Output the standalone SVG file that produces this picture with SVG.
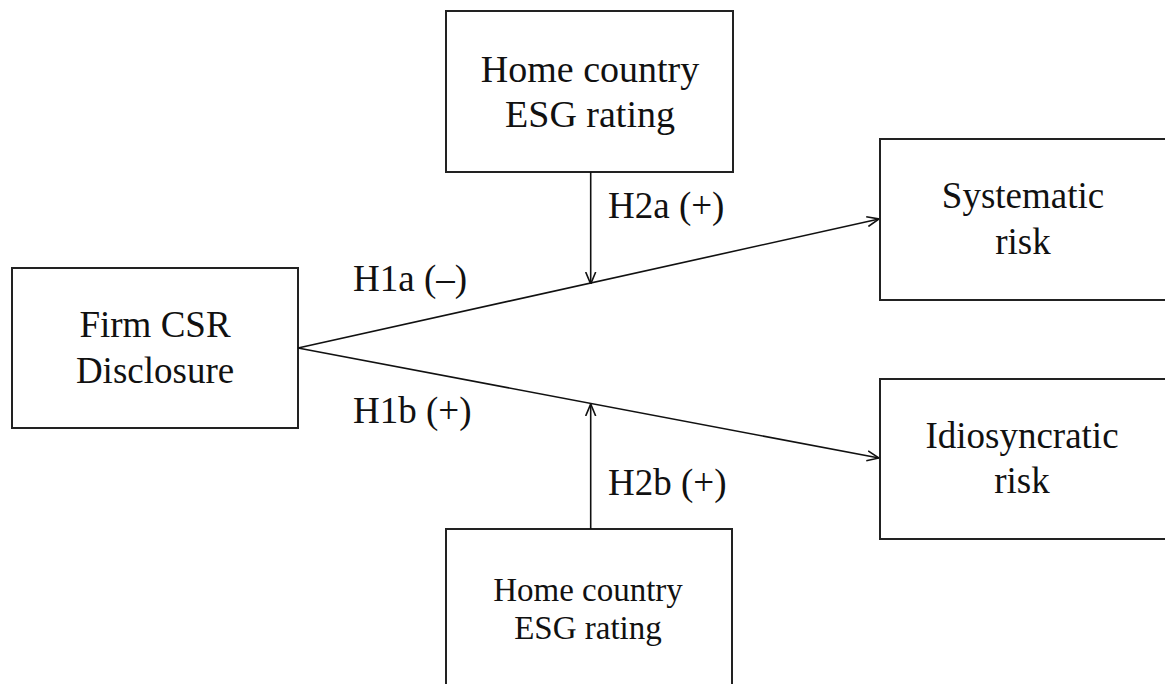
<svg xmlns="http://www.w3.org/2000/svg" width="1165" height="684" viewBox="0 0 1165 684">
  <style>
    .box { fill: #fff; stroke: #222; stroke-width: 2; }
    .t { font-family: "Liberation Serif", "Times New Roman", serif; fill: #111; text-anchor: middle; }
    .lbl { font-family: "Liberation Serif", "Times New Roman", serif; fill: #111; font-size: 37px; }
    .conn { stroke: #111; stroke-width: 1.6; fill: none; }
  </style>
  <defs>
    <marker id="arr" viewBox="0 0 12 12" refX="12" refY="6" markerWidth="12" markerHeight="12" markerUnits="userSpaceOnUse" orient="auto">
      <path d="M0,1 L12,6 L0,11" fill="none" stroke="#111" stroke-width="1.6"/>
    </marker>
  </defs>
  <rect width="1165" height="684" fill="#fff"/>

  <g id="node-firm">
    <rect class="box" x="12" y="268" width="286" height="160"/>
    <text class="t" font-size="37" x="155" y="337">Firm CSR</text>
    <text class="t" font-size="37" x="155" y="383">Disclosure</text>
  </g>

  <g id="node-home-top">
    <rect class="box" x="446" y="11" width="287" height="161"/>
    <text class="t" font-size="38" x="590" y="82">Home country</text>
    <text class="t" font-size="38" x="590" y="127">ESG rating</text>
  </g>

  <g id="node-home-bottom">
    <rect class="box" x="446" y="529" width="286" height="180"/>
    <text class="t" font-size="33" x="588" y="601">Home country</text>
    <text class="t" font-size="33" x="588" y="639">ESG rating</text>
  </g>

  <g id="node-systematic">
    <rect class="box" x="880" y="139" width="300" height="161"/>
    <text class="t" font-size="37" x="1023" y="208">Systematic</text>
    <text class="t" font-size="37" x="1023" y="254">risk</text>
  </g>

  <g id="node-idiosyncratic">
    <rect class="box" x="880" y="379" width="300" height="160"/>
    <text class="t" font-size="37" x="1022" y="448">Idiosyncratic</text>
    <text class="t" font-size="37" x="1022" y="493">risk</text>
  </g>

  <g id="connectors">
    <line class="conn" x1="298" y1="348" x2="879" y2="219" marker-end="url(#arr)"/>
    <line class="conn" x1="298" y1="348" x2="879" y2="458" marker-end="url(#arr)"/>
    <line class="conn" x1="590.7" y1="172" x2="590.7" y2="284" marker-end="url(#arr)"/>
    <line class="conn" x1="590.7" y1="529" x2="590.7" y2="404" marker-end="url(#arr)"/>
  </g>

  <g id="labels">
    <text class="lbl" x="353" y="291">H1a (–)</text>
    <text class="lbl" x="353" y="423">H1b (+)</text>
    <text class="lbl" x="608" y="218">H2a (+)</text>
    <text class="lbl" x="608" y="495">H2b (+)</text>
  </g>
</svg>
